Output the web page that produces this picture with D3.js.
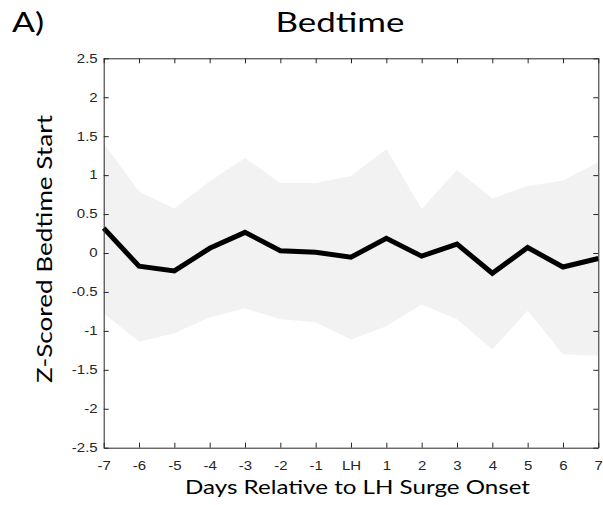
<!DOCTYPE html>
<html><head><meta charset="utf-8">
<script src="https://cdn.jsdelivr.net/npm/d3@7"></script>
<style>body{margin:0;background:#fff}svg{display:block}</style>
</head><body>
<svg id="c" width="603" height="505"></svg>
<script>
const days = [-7,-6,-5,-4,-3,-2,-1,0,1,2,3,4,5,6,7];
const dayLabels = ["-7","-6","-5","-4","-3","-2","-1","LH","1","2","3","4","5","6","7"];
const meanValues = [0.32,-0.17,-0.23,0.06,0.265,0.03,0.01,-0.055,0.19,-0.04,0.115,-0.26,0.07,-0.18,-0.07];
const upperValues = [1.41,0.79,0.57,0.92,1.22,0.90,0.90,0.99,1.335,0.565,1.065,0.70,0.86,0.93,1.17];
const lowerValues = [-0.775,-1.14,-1.03,-0.825,-0.71,-0.85,-0.89,-1.11,-0.94,-0.66,-0.85,-1.24,-0.74,-1.30,-1.32];
const yTicks = [-2.5,-2,-1.5,-1,-0.5,0,0.5,1,1.5,2,2.5];

const svg = d3.select("#c");
const L = 103.7, R = 598.3, T = 58.3, B = 447.7;
const x = d3.scaleLinear().domain([-7,7]).range([L,R]);
const y = d3.scaleLinear().domain([-2.5,2.5]).range([B,T]);

const pts = days.map((d,i)=>({d, m:meanValues[i], u:upperValues[i], l:lowerValues[i]}));

svg.append("path").datum(pts)
  .attr("d", d3.area().x(p=>x(p.d)).y0(p=>y(p.l)).y1(p=>y(p.u)))
  .attr("fill","#f2f2f2");

svg.append("path").datum(pts)
  .attr("d", d3.line().x(p=>x(p.d)).y(p=>y(p.m)))
  .attr("fill","none").attr("stroke","#000").attr("stroke-width",5).attr("stroke-linejoin","miter");

const axCol = "#262626";
const tickFmt = v => String(v);
const xb = svg.append("g").attr("transform",`translate(0,${B})`)
  .call(d3.axisBottom(x).tickValues(days).tickFormat((d,i)=>dayLabels[i]).tickSizeInner(-5).tickSizeOuter(0).tickPadding(14));
const xt = svg.append("g").attr("transform",`translate(0,${T})`)
  .call(d3.axisTop(x).tickValues(days).tickFormat("").tickSizeInner(-5).tickSizeOuter(0));
const yl = svg.append("g").attr("transform",`translate(${L},0)`)
  .call(d3.axisLeft(y).tickValues(yTicks).tickFormat(tickFmt).tickSizeInner(-5).tickSizeOuter(0).tickPadding(6));
const yr = svg.append("g").attr("transform",`translate(${R},0)`)
  .call(d3.axisRight(y).tickValues(yTicks).tickFormat("").tickSizeInner(-5).tickSizeOuter(0));
[xb,xt,yl,yr].forEach(g=>{
  g.selectAll("path,line").attr("stroke",axCol).attr("stroke-width",1);
  g.selectAll("text").each(function(){
    const t = d3.select(this);
    const tx = +t.attr("x") || 0;
    t.attr("x",0)
     .attr("transform",`translate(${tx},0) scale(1.25,1)`)
     .attr("fill",axCol)
     .style("font-size","12px")
     .style("font-family","'Liberation Sans', Arial, sans-serif");
  });
});

const ff = "Lato, sans-serif";
svg.append("text").attr("x",275.5).attr("y",32.3)
  .attr("textLength",129).attr("lengthAdjust","spacingAndGlyphs")
  .attr("font-family",ff).attr("font-size",27).attr("fill","#000").text("Bedtime");
svg.append("text").attr("x",12).attr("y",32.3)
  .attr("textLength",32).attr("lengthAdjust","spacingAndGlyphs")
  .attr("font-family",ff).attr("font-size",27).attr("fill","#000").text("A)");
svg.append("text").attr("x",185).attr("y",494)
  .attr("textLength",345).attr("lengthAdjust","spacingAndGlyphs")
  .attr("font-family",ff).attr("font-size",20).attr("fill","#000").text("Days Relative to LH Surge Onset");
svg.append("text").attr("transform",`translate(52.3,383) rotate(-90)`)
  .attr("textLength",268).attr("lengthAdjust","spacingAndGlyphs")
  .attr("font-family",ff).attr("font-size",21.5).attr("fill","#000").text("Z-Scored Bedtime Start");
</script>
</body></html>
